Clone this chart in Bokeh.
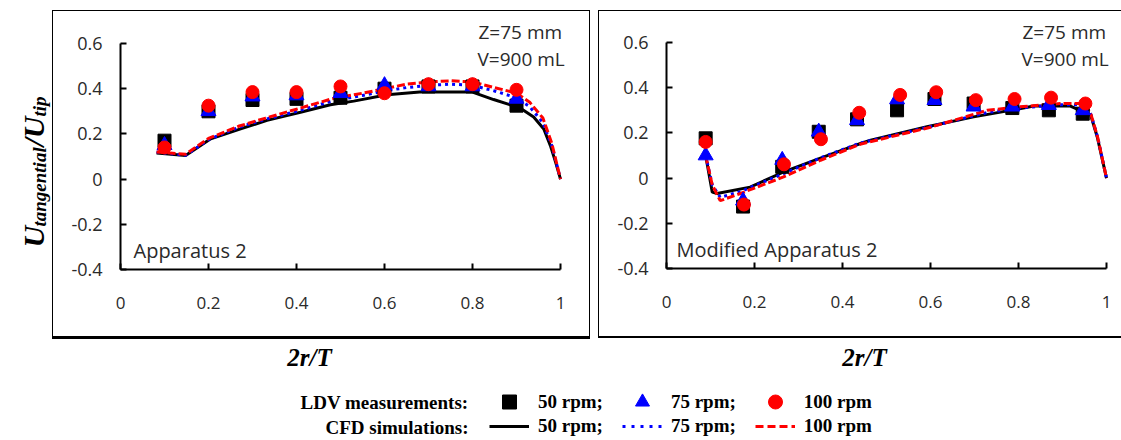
import math
from bokeh.plotting import figure
from bokeh.models import Range1d, FixedTicker, Label, Legend, LegendItem, Spacer
from bokeh.layouts import column, row
from bokeh.embed import file_html
from bokeh.resources import INLINE

# ---------------- data ----------------
x_ticks = [0, 0.2, 0.4, 0.6, 0.8, 1]
x_tick_labels = ["0", "0.2", "0.4", "0.6", "0.8", "1"]
y_ticks = [-0.4, -0.2, 0, 0.2, 0.4, 0.6]
y_tick_labels = ["-0.4", "-0.2", "0", "0.2", "0.4", "0.6"]

# Left panel (Apparatus 2) - LDV measurements
left_ldv_x = [0.1, 0.2, 0.3, 0.4, 0.5, 0.6, 0.7, 0.8, 0.9]
left_ldv_50 = [0.17, 0.30, 0.35, 0.355, 0.36, 0.40, 0.41, 0.41, 0.325]
left_ldv_75 = [0.15, 0.30, 0.365, 0.37, 0.38, 0.415, 0.41, 0.41, 0.355]
left_ldv_100 = [0.14, 0.325, 0.385, 0.385, 0.41, 0.38, 0.42, 0.42, 0.395]

# Left panel - CFD simulations
left_cfd50_x = [0.082, 0.148, 0.205, 0.273, 0.333, 0.409, 0.477, 0.53, 0.606, 0.68, 0.8, 0.848, 0.909, 0.939, 0.962, 0.977, 0.989, 1.0]
left_cfd50_y = [0.115, 0.104, 0.178, 0.222, 0.26, 0.296, 0.329, 0.345, 0.373, 0.385, 0.385, 0.352, 0.314, 0.275, 0.222, 0.148, 0.074, 0.0]
left_cfd_x = [0.082, 0.148, 0.2, 0.27, 0.33, 0.41, 0.48, 0.55, 0.6, 0.65, 0.7, 0.75, 0.8, 0.85, 0.9, 0.93, 0.96, 0.98, 1.0]
left_cfd75_y = [0.12, 0.105, 0.175, 0.23, 0.265, 0.305, 0.345, 0.37, 0.39, 0.405, 0.415, 0.42, 0.415, 0.39, 0.36, 0.32, 0.25, 0.15, 0.0]
left_cfd100_y = [0.12, 0.11, 0.18, 0.235, 0.27, 0.315, 0.355, 0.38, 0.40, 0.42, 0.43, 0.435, 0.43, 0.405, 0.38, 0.34, 0.27, 0.16, 0.0]

# Right panel (Modified Apparatus 2) - LDV measurements
right_ldv_x = [0.089, 0.174, 0.263, 0.346, 0.433, 0.524, 0.609, 0.698, 0.786, 0.869, 0.946]
right_ldv_x100 = [0.089, 0.176, 0.267, 0.351, 0.438, 0.531, 0.613, 0.703, 0.791, 0.874, 0.952]
right_ldv_50 = [0.176, -0.126, 0.05, 0.205, 0.26, 0.30, 0.35, 0.33, 0.31, 0.30, 0.285]
right_ldv_75 = [0.10, -0.10, 0.08, 0.205, 0.256, 0.348, 0.345, 0.316, 0.316, 0.323, 0.30]
right_ldv_100 = [0.16, -0.117, 0.061, 0.172, 0.289, 0.368, 0.38, 0.345, 0.35, 0.356, 0.33]

# Right panel - CFD simulations
right_cfd50_x = [0.089, 0.104, 0.115, 0.19, 0.266, 0.35, 0.441, 0.464, 0.592, 0.698, 0.805, 0.835, 0.918, 0.964, 0.979, 1.0]
right_cfd50_y = [0.10, -0.062, -0.068, -0.04, 0.027, 0.088, 0.153, 0.168, 0.227, 0.271, 0.308, 0.319, 0.319, 0.279, 0.182, 0.0]
right_cfd_x = [0.089, 0.104, 0.122, 0.168, 0.266, 0.35, 0.44, 0.6, 0.729, 0.8, 0.895, 0.95, 0.965, 0.98, 1.0]
right_cfd75_y = [0.10, -0.03, -0.085, -0.06, 0.02, 0.09, 0.155, 0.228, 0.29, 0.31, 0.325, 0.325, 0.28, 0.18, 0.0]
right_cfd100_y = [0.10, -0.03, -0.10, -0.068, 0.005, 0.079, 0.15, 0.225, 0.30, 0.315, 0.33, 0.33, 0.28, 0.18, 0.0]

series_labels = ["50 rpm;", "75 rpm;", "100 rpm"]

# ---------------- styling helpers ----------------
TXT = "#2a2a2a"
SANS = "Open Sans"
SERIF = "Liberation Serif"
PX_PER_UNIT = 440.0      # px per unit on x
PY_PER_UNIT = 226.0      # px per unit on y


def blank(p):
    p.axis.visible = False
    p.grid.visible = False
    p.outline_line_color = None
    p.background_fill_color = None
    p.border_fill_color = None


def make_panel(width, height, b_left, b_bottom, shadow):
    frame_w = width - b_left
    frame_h = height - b_bottom
    top_gap = frame_h - PY_PER_UNIT  # pixels above the 0.6 tick
    p = figure(width=width, height=height,
               x_range=Range1d(0, frame_w / PX_PER_UNIT),
               y_range=Range1d(-0.4, 0.6 + top_gap / PY_PER_UNIT),
               output_backend="svg", toolbar_location=None,
               min_border_left=b_left, min_border_right=0,
               min_border_top=0, min_border_bottom=b_bottom)
    p.outline_line_color = None
    p.background_fill_color = None
    p.border_fill_color = None
    p.grid.visible = False
    p.styles = {"box-shadow": shadow}
    p.xaxis.ticker = FixedTicker(ticks=x_ticks)
    p.yaxis.ticker = FixedTicker(ticks=y_ticks)
    p.xaxis.bounds = (0, 1)
    p.yaxis.bounds = (-0.4, 0.6)
    p.xaxis.major_label_overrides = {t: l for t, l in zip(x_ticks, x_tick_labels)}
    p.yaxis.major_label_overrides = {t: l for t, l in zip(y_ticks, y_tick_labels)}
    for ax in (p.xaxis, p.yaxis):
        ax.axis_line_width = 2
        ax.axis_line_color = "black"
        ax.major_tick_in = 6
        ax.major_tick_out = 0
        ax.major_tick_line_width = 2
        ax.minor_tick_line_color = None
        ax.major_label_text_font = SANS
        ax.major_label_text_color = TXT
    p.yaxis.major_label_text_font_size = "18px"
    p.xaxis.major_label_text_font_size = "17px"
    p.yaxis.major_label_standoff = 18
    p.xaxis.major_label_standoff = 27
    return p


def add_series(p, lx, lx100, l50, l75, l100, c50x, c50y, cx, c75y, c100y):
    p.line(c50x, c50y, line_color="black", line_width=3)
    p.line(cx, c75y, line_color="#0000ff", line_width=3, line_dash="3 4")
    p.line(cx, c100y, line_color="#ff0000", line_width=3, line_dash="8 3")
    p.scatter(lx, l50, marker="square", size=13, color="black")
    p.scatter(lx, l75, marker="triangle", size=15, color="#0000ff")
    p.scatter(lx100, l100, marker="circle", size=13, color="#ff0000")


def txt(p, x, y, text, size, font=SANS, style="normal", align="left", baseline="middle", angle=0, color=TXT):
    p.add_layout(Label(x=x, y=y, x_units="canvas", y_units="canvas", text=text,
                       text_font=font, text_font_size=size, text_font_style=style,
                       text_align=align, text_baseline=baseline, angle=angle, text_color=color))


# ---------------- y-axis title strip ----------------
yl = figure(width=52, height=372, x_range=Range1d(0, 1), y_range=Range1d(0, 1),
            output_backend="svg", toolbar_location=None, min_border=0)
blank(yl)
A = math.pi / 2
txt(yl, 33, 247, "U", "30px", font=SERIF, style="bold italic", baseline="alphabetic", angle=A, color="black")
txt(yl, 39, 226, "tangential", "19px", font=SERIF, style="bold italic", baseline="alphabetic", angle=A, color="black")
txt(yl, 33, 146, "/U", "30px", font=SERIF, style="bold italic", baseline="alphabetic", angle=A, color="black")
txt(yl, 39, 116, "tip", "19px", font=SERIF, style="bold italic", baseline="alphabetic", angle=A, color="black")

# ---------------- left panel ----------------
pl = make_panel(538, 329, 68, 70, "inset 1px 1px 0 0 #000, inset -1px -3px 0 0 #000")
add_series(pl, left_ldv_x, left_ldv_x, left_ldv_50, left_ldv_75, left_ldv_100,
           left_cfd50_x, left_cfd50_y, left_cfd_x, left_cfd75_y, left_cfd100_y)
txt(pl, 426, 21, "Z=75 mm", "19px")
txt(pl, 425, 48, "V=900 mL", "19px")
txt(pl, 81, 240, "Apparatus 2", "20px")

xl = figure(width=538, height=33, x_range=Range1d(0, 1), y_range=Range1d(0, 1),
            output_backend="svg", toolbar_location=None, min_border=0)
blank(xl)
txt(xl, 257, 18, "2r/T", "25px", font=SERIF, style="bold italic", align="center", color="black")

# ---------------- right panel ----------------
pr = make_panel(523, 328, 68, 70, "inset 1px 1px 0 0 #000, inset 0 -2px 0 0 #000")
add_series(pr, right_ldv_x, right_ldv_x100, right_ldv_50, right_ldv_75, right_ldv_100,
           right_cfd50_x, right_cfd50_y, right_cfd_x, right_cfd75_y, right_cfd100_y)
txt(pr, 424, 21, "Z=75 mm", "19px")
txt(pr, 423, 48, "V=900 mL", "19px")
txt(pr, 78, 239, "Modified Apparatus 2", "20px")

xr = figure(width=523, height=34, x_range=Range1d(0, 1), y_range=Range1d(0, 1),
            output_backend="svg", toolbar_location=None, min_border=0)
blank(xr)
txt(xr, 266, 19, "2r/T", "25px", font=SERIF, style="bold italic", align="center", color="black")

# ---------------- legend ----------------
pg = figure(width=1121, height=68, x_range=Range1d(0, 1), y_range=Range1d(-0.4, 0.6),
            output_backend="svg", toolbar_location=None, min_border=0)
blank(pg)
r_sq = pg.scatter(left_ldv_x, left_ldv_50, marker="square", size=13, color="black", visible=False)
r_tr = pg.scatter(left_ldv_x, left_ldv_75, marker="triangle", size=15, color="#0000ff", visible=False)
r_ci = pg.scatter(left_ldv_x, left_ldv_100, marker="circle", size=13, color="#ff0000", visible=False)
r_l50 = pg.line(left_cfd50_x, left_cfd50_y, line_color="black", line_width=3, visible=False)
r_l75 = pg.line(left_cfd_x, left_cfd75_y, line_color="#0000ff", line_width=3, line_dash="3 6", visible=False)
r_l100 = pg.line(left_cfd_x, left_cfd100_y, line_color="#ff0000", line_width=3, line_dash="8 4", visible=False)


def make_legend(rends, loc, gh):
    lg = Legend(items=[LegendItem(label=lab, renderers=[r]) for lab, r in zip(series_labels, rends)],
                orientation="horizontal", location=loc, glyph_width=40, glyph_height=gh,
                label_standoff=9, spacing=19, padding=0, margin=0, border_line_color=None,
                background_fill_alpha=0, label_text_font=SERIF, label_text_font_style="bold",
                label_text_font_size="19px", label_text_color="black", label_height=20)
    pg.add_layout(lg)


make_legend([r_sq, r_tr, r_ci], (489, 21), 35)
make_legend([r_l50, r_l75, r_l100], (489, 3), 20)
txt(pg, 468, 30, "LDV measurements:", "19px", font=SERIF, style="bold", align="right", color="black")
txt(pg, 468, 55, "CFD simulations:", "19px", font=SERIF, style="bold", align="right", color="black")

left_col = column(Spacer(width=538, height=10), pl, xl, spacing=0)
right_col = column(Spacer(width=523, height=10), pr, xr, spacing=0)
top = row(yl, left_col, Spacer(width=8, height=372), right_col, spacing=0)
layout = column(top, pg, spacing=0)
open("out.html", "w").write(file_html(layout, INLINE))
